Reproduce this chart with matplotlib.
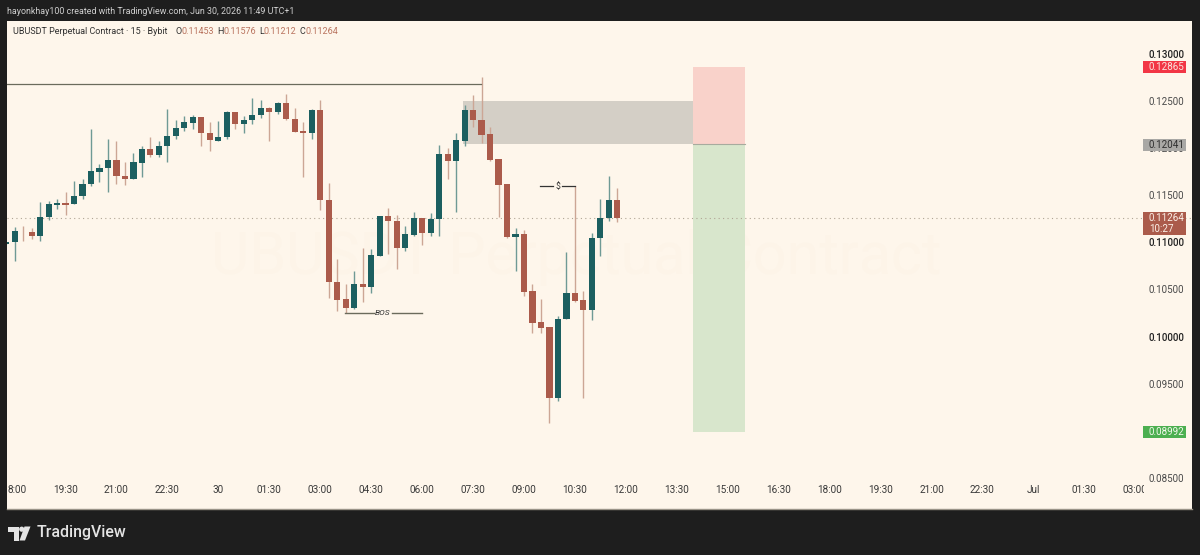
#!/usr/bin/env python3
"""UBUSDT 15m candles with a short position drawing, TradingView style."""

import matplotlib
matplotlib.use("Agg")
import matplotlib.pyplot as plt
import numpy as np
from matplotlib.patches import Circle, Polygon, Rectangle
from matplotlib.transforms import Bbox

# prices are in 1e-5 USDT
opens = [10986,11001,11125,11114,11071,11273,11401,11415,11404,11489,11616,11751,11790,11878,11708,11673,11843,11988,11928,12020,12126,12218,12271,12331,12161,12080,12115,12381,12257,12299,12356,12427,12384,12476,12313,12179,12161,12406,11450,10580,10396,10300,10562,10530,10859,11277,11224,10944,11082,11255,11103,11248,11938,11864,12080,12409,12299,12151,11882,11616,11061,11093,10480,10155,10105,9352,10183,10466,10388,10279,11043,11259,11453]
highs = [11008,11160,11178,11156,11429,11436,11464,11535,11655,11669,12200,11829,12094,12080,11853,11945,12023,12115,12076,12413,12296,12342,12352,12331,12278,12289,12395,12381,12342,12536,12512,12434,12487,12572,12430,12282,12413,12508,11627,10820,10555,10696,10937,10933,11284,11365,11294,11174,11323,11255,11309,12030,11999,12165,12459,12561,12752,12229,11882,11616,11153,11128,10555,10396,10105,10219,10898,11599,10488,11096,11457,11708,11576]
lows = [10986,10802,11018,11036,11015,11238,11351,11291,11404,11457,11599,11645,11539,11623,11609,11669,11698,11910,11903,11853,12098,12183,12204,12027,11970,12073,12098,12200,12165,12257,12324,12080,12360,12299,12168,11691,12101,11344,10413,10275,10254,10289,10371,10466,10859,10877,10714,10912,11071,10969,11071,11071,11673,11319,12023,12221,12059,11864,11270,11050,10700,10434,10042,10035,9079,9320,10183,10371,9352,10176,10856,11231,11212]
closes = [11008,11121,11117,11068,11273,11408,11415,11401,11493,11623,11758,11793,11878,11705,11669,11850,11988,11928,12020,12126,12218,12275,12331,12161,12083,12122,12381,12257,12303,12356,12427,12384,12476,12310,12172,12161,12409,11450,10576,10392,10300,10562,10530,10863,11277,11224,10944,11089,11255,11103,11248,11938,11864,12087,12409,12299,12144,11878,11613,11061,11093,10477,10148,10095,9352,10187,10466,10381,10279,11047,11259,11450,11264]

time_labels = ["8:00", "19:30", "21:00", "22:30", "30", "01:30", "03:00", "04:30", "06:00",
               "07:30", "09:00", "10:30", "12:00", "13:30", "15:00", "16:30", "18:00", "19:30",
               "21:00", "22:30", "Jul", "01:30", "03:00"]
price_ticks = [0.130, 0.125, 0.120, 0.115, 0.110, 0.105, 0.100, 0.095, 0.085]
bold_ticks = [0.130, 0.110, 0.100]

last_price = 0.11264
stop_price = 0.12865
entry_price = 0.12041
target_price = 0.08992
zone_top = 0.12501
swing_high = 0.12682
bos_level = 0.10250
dollar_level = 0.11596

W, H = 1200, 555
BG = "#FEF6EB"
FRAME = "#1E1E1E"
GREEN = "#1C5F60"
RED = "#AB5B4B"
GREEN_WICK = "#6F9A95"
RED_WICK = "#CCA695"
FONT = "Roboto"

PX = 8.49  # candle spacing in pixels
X0 = 14.6  # pixel of candle 0
Y_PER_PX = 0.00010616


def idx(px):
    return (px - X0) / PX


def price(py):
    return 0.13 - (py - 54) * Y_PER_PX


def ftext(x, y, s, **kw):
    kw.setdefault("family", FONT)
    kw.setdefault("va", "center")
    return fig.text(x / W, 1 - y / H, s, **kw)


fig = plt.figure(figsize=(12, 5.55), dpi=100, facecolor=FRAME)
left, right, top, bottom = 7, 1192, 21, 509
ax = fig.add_axes([left / W, 1 - bottom / H, (right - left) / W, (bottom - top) / H], facecolor=BG)
ax.set_xlim(idx(left), idx(right))
ax.set_ylim(price(bottom), price(top))

# watermark
ax.text(idx(576), price(257), "UBUSDT Perpetual Contract", color="#FDF4E8", fontsize=42.6,
        family=FONT, ha="center", va="center", zorder=0.5)

# position tool and supply zone
box_l, box_r = idx(693), idx(745)
ax.add_patch(Rectangle((idx(463.5), entry_price), box_l - idx(463.5), zone_top - entry_price,
                       fc="#D4CFC6", ec="none", zorder=1))
ax.add_patch(Rectangle((box_l, entry_price), box_r - box_l, stop_price - entry_price,
                       fc="#F9D2CA", ec="none", zorder=1))
ax.add_patch(Rectangle((box_l, target_price), box_r - box_l, entry_price - target_price,
                       fc="#D8E6CC", ec="none", zorder=1))
ax.plot([box_l, box_r], [entry_price, entry_price], color="#A7AB9E", lw=0.8, zorder=1.2)

ax.axhline(last_price, color="#B0A595", lw=0.8, ls=(0, (1, 3)), zorder=1.1)

# candles
x = np.arange(-1, len(opens) - 1)
o, h, l, c = [np.array(v) / 1e5 for v in (opens, highs, lows, closes)]
up = c >= o
ax.vlines(x[up], l[up], h[up], color=GREEN_WICK, lw=1.0, zorder=2)
ax.vlines(x[~up], l[~up], h[~up], color=RED_WICK, lw=1.0, zorder=2)
ax.bar(x[up], (c - o)[up], bottom=o[up], width=0.72, color=GREEN, zorder=3)
ax.bar(x[~up], (o - c)[~up], bottom=c[~up], width=0.72, color=RED, zorder=3)

# drawings
ax.plot([idx(left), idx(481.5)], [swing_high, swing_high], color="#6B6B5C", lw=0.9, zorder=2.5)
ax.plot([idx(345), idx(374)], [bos_level, bos_level], color="#6B6B5C", lw=1, zorder=4)
ax.plot([idx(392), idx(422)], [bos_level, bos_level], color="#6B6B5C", lw=1, zorder=4)
ax.text(idx(383), bos_level, "BOS", fontsize=6, style="italic", family=FONT, color="#333333",
        ha="center", va="center", zorder=4)
ax.plot([idx(540), idx(553)], [dollar_level, dollar_level], color="#333333", lw=0.9, zorder=4)
ax.plot([idx(562), idx(575)], [dollar_level, dollar_level], color="#333333", lw=0.9, zorder=4)
ax.text(idx(557.5), dollar_level, "$", fontsize=6.2, family=FONT, color="#333333",
        ha="center", va="center", zorder=4)

# axes labels live inside the panel
time_ticks = np.arange(len(time_labels)) * 6.0
time_ticks[0] = 0.25  # cut-off label sits just right of the frame
ax.set_xticks(time_ticks, time_labels)
ax.set_yticks(price_ticks, [f"{t:.5f}" for t in price_ticks])
ax.yaxis.tick_right()
ax.tick_params(axis="x", length=0, pad=-17, labelsize=7.2, labelcolor="#3A3A3A")
ax.tick_params(axis="y", length=0, pad=-31.5, labelsize=7.1, labelcolor="#4A4A4A")
for lab, t in zip(ax.get_yticklabels(), price_ticks):
    lab.set_family(FONT)
    if t in bold_ticks:
        lab.set_fontweight("medium")
        lab.set_color("#222222")
for lab in ax.get_xticklabels():
    lab.set_family(FONT)
# last time label runs under the price scale
last = ax.get_xticklabels()[-1]
last.set_clip_on(True)
last.set_clip_box(Bbox([[left, 0], [1144, H]]))
for side in ("top", "left", "right"):
    ax.spines[side].set_visible(False)
ax.spines["bottom"].set_color("#9A9488")
ax.spines["bottom"].set_linewidth(1)


def badge(y0, y1, col, txtcol, lines):
    ax.add_patch(Rectangle((idx(1143), price(y1)), idx(1186) - idx(1143), price(y0) - price(y1),
                           fc=col, ec="none", zorder=5))
    step = (y1 - y0) / len(lines)
    for k, s in enumerate(lines):
        ax.text(idx(1149), price(y0 + step * (k + 0.5)), s, color=txtcol, fontsize=7.1, family=FONT,
                ha="left", va="center", zorder=6)


badge(61.5, 73, "#F23645", "#FBE3DC", [f"{stop_price:.5f}"])
badge(139, 151, "#A9A8A5", "#2F2F2F", [f"{entry_price:.5f}"])
badge(212, 235, RED, "#FBEFE6", [f"{last_price:.5f}", "10:27"])
badge(426, 438, "#4CAF50", "#F3F8EC", [f"{target_price:.5f}"])

# header and legend
ftext(7, 11, "hayonkhay100 created with TradingView.com, Jun 30, 2026 11:49 UTC+1",
      color="#D0D0D0", fontsize=6.4)
ftext(13, 31, "UBUSDT Perpetual Contract · 15 · Bybit", color="#2F2F2F", fontsize=6.5)
for lx, vx, name, val in [(175, 182, "O", "0.11453"), (217, 223, "H", "0.11576"),
                          (259, 264, "L", "0.11212"), (300, 306, "C", "0.11264")]:
    ftext(lx, 31, name, color="#2F2F2F", fontsize=6.5)
    ftext(vx, 31, val, color="#B9735E", fontsize=6.5)

# TradingView logo
logo = "#E4E4E4"
for pts in ([(8, 526.5), (19, 526.5), (19, 540.5), (14, 540.5), (14, 532), (8, 532)],
            [(24.5, 526.5), (30.5, 526.5), (25, 540.5), (19.5, 540.5)]):
    fig.add_artist(Polygon([(a / W, 1 - b / H) for a, b in pts], closed=True, fc=logo, ec="none",
                           transform=fig.transFigure))
fig.add_artist(Circle((21.7, H - 529.2), 2.6, fc=logo, ec="none", transform=None))
ftext(36.5, 533, "TradingView", color=logo, fontsize=11.4, weight="medium")

fig.savefig("out.png", dpi=100, facecolor=FRAME)
